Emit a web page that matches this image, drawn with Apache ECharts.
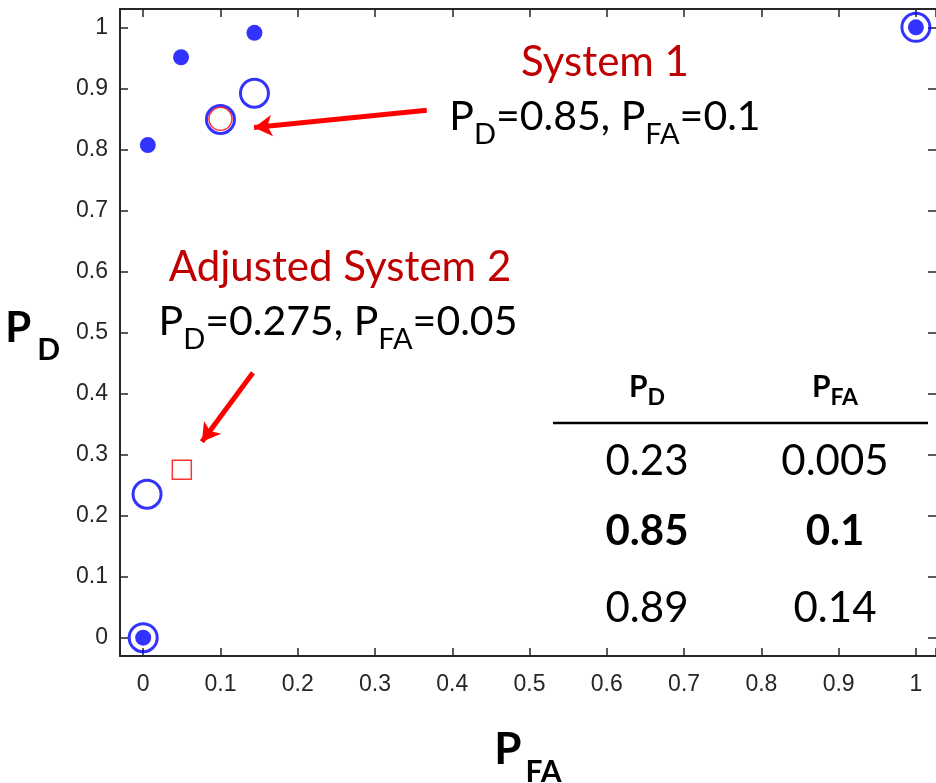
<!DOCTYPE html>
<html>
<head>
<meta charset="utf-8">
<script src="https://cdn.jsdelivr.net/npm/echarts@6/dist/echarts.min.js"></script>
<style>
html,body{margin:0;padding:0;background:#fff}
#chart{width:936px;height:783px}
</style>
</head>
<body>
<div id="chart"></div>
<script>
// 实心蓝点
const filledPts = [[0, 0], [0.006, 0.807], [0.049, 0.951], [0.144, 0.991], [1, 1]]
// 空心蓝圈
const openPts = [[0, 0], [0.005, 0.235], [0.1, 0.849], [0.144, 0.892], [1, 1]]
// System 1 (红圈) / Adjusted System 2 (红方块)
const sys1Pt = [[0.1, 0.85]]
const sys2Pt = [[0.05, 0.275]]
// 箭头 [起点, 终点]
const arrow1 = [[0.367, 0.864], [0.1435, 0.836]]
const arrow2 = [[0.142, 0.434], [0.076, 0.321]]
// 右下角表格
const tablePD = ['0.23', '0.85', '0.89']
const tablePFA = ['0.005', '0.1', '0.14']
const boldRow = 1

const myChart = echarts.init(document.getElementById('chart'))

const axisColor = '#262626'
const tickFmt = v => {
  if (Math.abs(v * 10 - Math.round(v * 10)) > 1e-6) return ''
  return String(Math.round(v * 10) / 10)
}

// 下标文字
const subText = (pd, pfa) => `{m|P}{s|D}{m|=${pd}, P}{s|FA}{m|=${pfa}}`
const annoRich = {
  m: { fontSize: 41, fontFamily: 'Lato', fill: '#000', lineHeight: 44, verticalAlign: 'top' },
  s: { fontSize: 29, fontFamily: 'Lato', fill: '#000', verticalAlign: 'top', padding: [24, 0, 0, 0] }
}
const headRich = {
  m: { fontSize: 30, fontFamily: 'Lato', fontWeight: 'bold', fill: '#000', lineHeight: 32, verticalAlign: 'top' },
  s: { fontSize: 23, fontFamily: 'Lato', fontWeight: 'bold', fill: '#000', verticalAlign: 'top', padding: [14, 0, 0, 0] }
}

const rowY = [461, 531, 608]
const colX = [647, 835]
const tableTexts = []
tablePD.forEach((v, i) => {
  ;[v, tablePFA[i]].forEach((t, j) => {
    tableTexts.push({
      type: 'text', x: colX[j], y: rowY[i],
      style: {
        text: t, fontSize: 42, fontFamily: 'Lato', fontWeight: i === boldRow ? 'bold' : 'normal',
        fill: '#000', align: 'center', verticalAlign: 'middle'
      }
    })
  })
})

const frameAxis = {
  type: 'value', splitNumber: 10,
  axisLine: { onZero: false, lineStyle: { color: axisColor, width: 2 } },
  axisTick: { inside: true, length: 8, lineStyle: { color: axisColor, width: 1.5 } },
  splitLine: { show: false }
}

const option = {
  animation: false,
  grid: { left: 120, right: 0, top: 9, bottom: 127, outerBoundsMode: 'none', containLabel: false },
  xAxis: [{
    ...frameAxis, min: -0.03, max: 1.026,
    axisLabel: { formatter: tickFmt, color: axisColor, fontSize: 23, fontFamily: 'Liberation Sans', margin: 17 },
    name: '{m|P}{s|FA}', nameLocation: 'middle', nameGap: 72,
    nameTextStyle: {
      rich: {
        m: { fontSize: 44, fontWeight: 'bold', fontFamily: 'Lato', color: '#000', lineHeight: 44, verticalAlign: 'top' },
        s: { fontSize: 30, fontWeight: 'bold', fontFamily: 'Lato', color: '#000', verticalAlign: 'top', padding: [29, 0, 0, 4] }
      }
    }
  }, {
    ...frameAxis, position: 'top', min: -0.03, max: 1.026,
    axisLabel: { show: false }
  }],
  yAxis: [{
    ...frameAxis, min: -0.03, max: 1.03,
    axisLabel: { formatter: tickFmt, color: axisColor, fontSize: 23, fontFamily: 'Liberation Sans', margin: 12 },
    name: '{m|P}{s|D}', nameLocation: 'middle', nameRotate: 0, nameGap: 60,
    nameTextStyle: {
      padding: [8, 0, 0, 0],
      rich: {
        m: { fontSize: 42, fontWeight: 'bold', fontFamily: 'Lato', color: '#000', lineHeight: 44, verticalAlign: 'top' },
        s: { fontSize: 30, fontWeight: 'bold', fontFamily: 'Lato', color: '#000', verticalAlign: 'top', padding: [28, 0, 0, 6] }
      }
    }
  }, {
    ...frameAxis, position: 'right', min: -0.03, max: 1.03,
    axisLine: { show: false, onZero: false },
    axisLabel: { show: false }
  }],
  series: [
    {
      type: 'scatter', data: openPts, symbol: 'circle', symbolSize: 28,
      itemStyle: { color: 'rgba(0,0,0,0)', borderColor: '#0000ff', borderWidth: 3 },
      silent: true
    },
    {
      type: 'scatter', data: filledPts, symbol: 'circle', symbolSize: 16,
      itemStyle: { color: '#0000ff' },
      silent: true
    },
    {
      type: 'scatter', data: sys1Pt, symbol: 'circle', symbolSize: 23,
      itemStyle: { color: 'rgba(0,0,0,0)', borderColor: '#ff0000', borderWidth: 1.5 },
      silent: true
    },
    {
      type: 'scatter', data: sys2Pt, symbol: 'rect', symbolSize: 19,
      itemStyle: { color: 'rgba(0,0,0,0)', borderColor: '#ff0000', borderWidth: 1.5 },
      silent: true,
      markLine: {
        silent: true,
        symbol: ['none', 'arrow'],
        symbolSize: [16, 18],
        label: { show: false },
        lineStyle: { color: '#ff0000', width: 5, type: 'solid' },
        data: [
          [{ coord: arrow1[0] }, { coord: arrow1[1] }],
          [{ coord: arrow2[0] }, { coord: arrow2[1] }]
        ]
      }
    }
  ],
  graphic: [
    {
      type: 'text', x: 605, y: 62,
      style: { text: 'System 1', fontSize: 42, fontFamily: 'Lato', fill: '#c00000', align: 'center', verticalAlign: 'middle' }
    },
    {
      type: 'text', x: 605, y: 96,
      style: { text: subText(sys1Pt[0][1], sys1Pt[0][0]), rich: annoRich, align: 'center', verticalAlign: 'top' }
    },
    {
      type: 'text', x: 340, y: 267,
      style: { text: 'Adjusted System 2', fontSize: 42, fontFamily: 'Lato', fill: '#c00000', align: 'center', verticalAlign: 'middle' }
    },
    {
      type: 'text', x: 338, y: 301,
      style: { text: subText(sys2Pt[0][1], sys2Pt[0][0]), rich: annoRich, align: 'center', verticalAlign: 'top' }
    },
    {
      type: 'text', x: colX[0], y: 372,
      style: { text: '{m|P}{s|D}', rich: headRich, align: 'center', verticalAlign: 'top' }
    },
    {
      type: 'text', x: colX[1], y: 372,
      style: { text: '{m|P}{s|FA}', rich: headRich, align: 'center', verticalAlign: 'top' }
    },
    {
      type: 'line', shape: { x1: 553, y1: 423, x2: 928, y2: 423 },
      style: { stroke: '#000', lineWidth: 2.5 }
    },
    ...tableTexts
  ]
}

myChart.setOption(option)
</script>
</body>
</html>
